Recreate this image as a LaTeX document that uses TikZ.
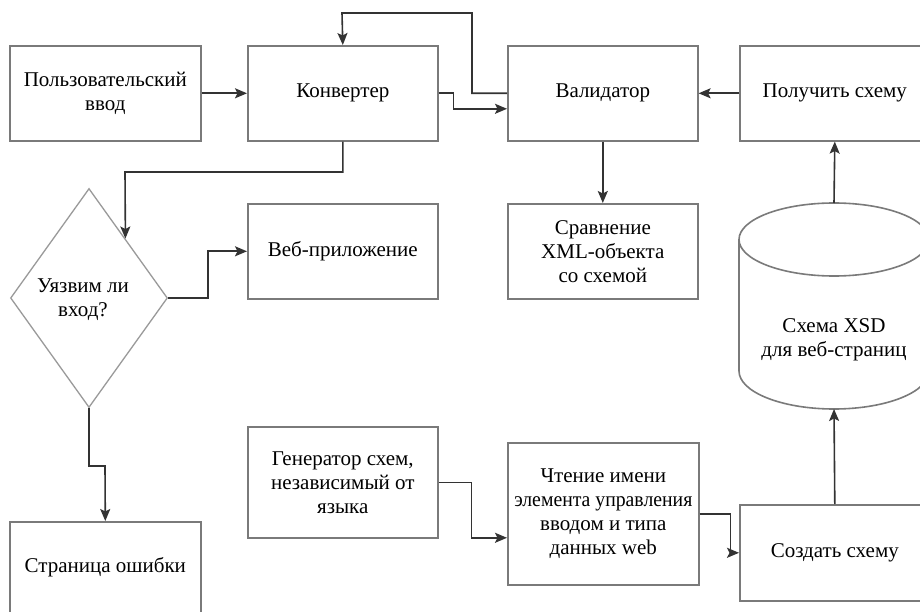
\documentclass[tikz,border=0pt]{standalone}
\usepackage{fontspec}
\setmainfont{Liberation Serif}
\usetikzlibrary{arrows.meta,shapes.geometric,calc}
\definecolor{boxcol}{HTML}{7A7A7A}
\definecolor{diacol}{HTML}{9A9A9A}
\definecolor{arrcol}{HTML}{333333}
\tikzset{
  box/.style={draw=boxcol, line width=1.6pt, rectangle, anchor=north west, inner sep=2pt,
    align=center, font=\fontsize{21}{24}\selectfont},
  lbl/.style={align=center, inner sep=0pt, font=\fontsize{21}{24}\selectfont},
  arr/.style={draw=arrcol, line width=1.6pt, -{Stealth[length=12pt,width=10pt,inset=2.5pt]}},
  cylline/.style={draw=boxcol, line width=1.6pt},
}
\begin{document}
\begin{tikzpicture}[x=1pt,y=-1pt]
\useasboundingbox (0,0) rectangle (920,612);
\clip (0,0) rectangle (920,612);
\fill[white] (0,0) rectangle (920,612);

% boxes
\node[box, minimum width=191pt, minimum height=95pt] (user) at (9,45) {Пользовательский\\ввод};
\node[box, minimum width=190pt, minimum height=95pt] (conv) at (247,45) {Конвертер};
\node[box, minimum width=190pt, minimum height=95pt] (val) at (507,45) {Валидатор};
\node[box, minimum width=190pt, minimum height=95pt] (get) at (739,45) {Получить схему};
\node[box, minimum width=190pt, minimum height=95pt] (cmp) at (507,203) {Сравнение\\XML-объекта\\со схемой};
\node[box, minimum width=190pt, minimum height=95pt] (web) at (247,203) {Веб-приложение};
\node[box, minimum width=191pt, minimum height=100pt, text depth=14pt] (err) at (9,521) {Страница ошибки};
\node[box, minimum width=190pt, minimum height=111pt] (gen) at (247,426) {Генератор схем,\\независимый от\\языка};
\node[box, minimum width=191pt, minimum height=142pt] (read) at (507,442) {Чтение имени\\\scalebox{0.94}[1]{элемента управления}\\вводом и типа\\данных web};
\node[box, minimum width=190pt, minimum height=96pt] (create) at (739,504) {Создать схему};

% decision
\node[diamond, draw=diacol, line width=1.3pt, minimum width=157pt, minimum height=219pt, inner sep=0pt] (dec) at (89,298) {};
\node[lbl] (dectxt) at (83,300) {Уязвим ли\\вход?};

% cylinder
\draw[cylline] (834,239.5) ellipse [x radius=95pt, y radius=36.5pt];
\draw[cylline] (739,239.5) -- (739,371) arc[start angle=180, end angle=360, x radius=95pt, y radius=38pt] -- (929,239.5);
\node[lbl] (cyl) at (834,340) {Схема XSD\\для веб-страниц};
\coordinate (cyltop) at (834,203);
\coordinate (cylbot) at (834,409);

% helper coordinates
\coordinate (k1) at (125,172);
\coordinate (dne) at ($(dec.north)!0.46!(dec.east)$);
\coordinate (k2) at (105,466);
\coordinate (k3) at (342,13);

% connectors
\draw[arr] (user.east) -- (conv.west);
\draw[arr] (conv.east) -- ++(15,0) |- ([yshift=-15.5pt]val.west);
\draw[arr] (val.west) -- ++(-35,0) |- (k3) -- (conv.north);
\draw[arr] (get.west) -- (val.east);
\draw[arr] (val.south) -- (cmp.north);
\draw[arr] (cyltop) -- (get.south);
\draw[arr] (create.north) -- (cylbot);
\draw[arr] (conv.south) |- (k1) -- (dne);
\draw[arr] (dec.east) -- ++(40,0) |- (web.west);
\draw[arr] (dec.south) |- (k2) -- (err.north);
\draw[arr] (gen.east) -- ++(33,0) |- ([yshift=-24pt]read.west);
\draw[arr] (read.east) -- ++(31,0) |- (create.west);
\end{tikzpicture}
\end{document}
